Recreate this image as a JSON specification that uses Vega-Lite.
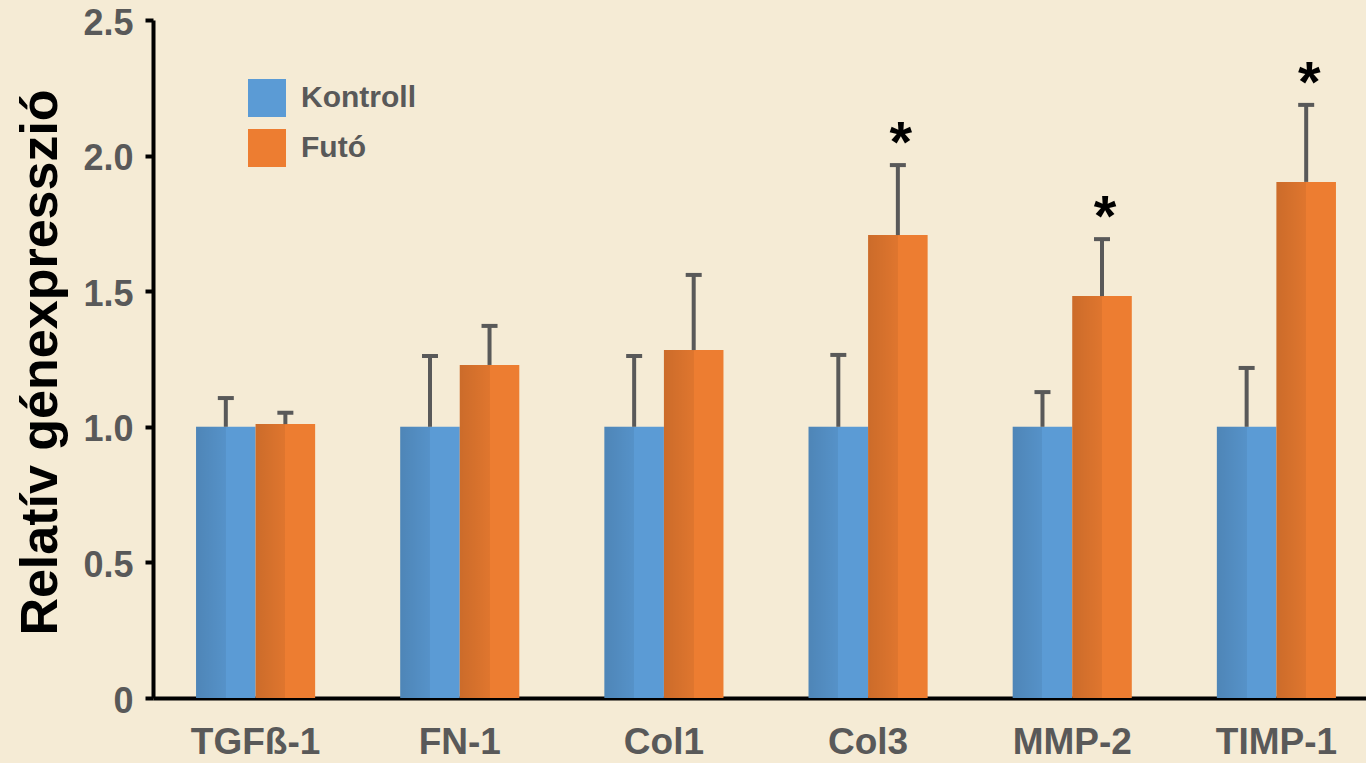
{
  "$schema": "https://vega.github.io/schema/vega-lite/v6.json",
  "width": 1213,
  "height": 678,
  "autosize": {"type": "none"},
  "padding": {"left": 153, "top": 20, "right": 0, "bottom": 65},
  "background": "#f5ebd5",
  "config": {"view": {"stroke": null}, "font": "Liberation Sans"},
  "data": {
    "values": [
      {"gene": "TGFß-1", "group": "Kontroll", "value": 1.0, "upper": 1.106, "star": false},
      {"gene": "TGFß-1", "group": "Futó", "value": 1.01, "upper": 1.052, "star": false},
      {"gene": "FN-1", "group": "Kontroll", "value": 1.0, "upper": 1.261, "star": false},
      {"gene": "FN-1", "group": "Futó", "value": 1.228, "upper": 1.372, "star": false},
      {"gene": "Col1", "group": "Kontroll", "value": 1.0, "upper": 1.261, "star": false},
      {"gene": "Col1", "group": "Futó", "value": 1.283, "upper": 1.56, "star": false},
      {"gene": "Col3", "group": "Kontroll", "value": 1.0, "upper": 1.265, "star": false},
      {"gene": "Col3", "group": "Futó", "value": 1.707, "upper": 1.965, "star": true},
      {"gene": "MMP-2", "group": "Kontroll", "value": 1.0, "upper": 1.128, "star": false},
      {"gene": "MMP-2", "group": "Futó", "value": 1.482, "upper": 1.692, "star": true},
      {"gene": "TIMP-1", "group": "Kontroll", "value": 1.0, "upper": 1.217, "star": false},
      {"gene": "TIMP-1", "group": "Futó", "value": 1.903, "upper": 2.187, "star": true}
    ]
  },
  "encoding": {
    "x": {
      "field": "gene",
      "type": "nominal",
      "sort": ["TGFß-1", "FN-1", "Col1", "Col3", "MMP-2", "TIMP-1"],
      "scale": {"paddingInner": 0.4167, "paddingOuter": 0.179, "align": 0.589},
      "axis": {
        "title": null,
        "labelFont": "Liberation Sans",
        "labelFontSize": 37,
        "labelFontWeight": "bold",
        "labelColor": "#595959",
        "labelAngle": 0,
        "labelBaseline": "top",
        "labelPadding": 26,
        "ticks": false,
        "domainColor": "black",
        "domainWidth": 4
      }
    },
    "xOffset": {
      "field": "group",
      "type": "nominal",
      "sort": ["Kontroll", "Futó"],
      "scale": {"paddingInner": 0, "paddingOuter": 0}
    }
  },
  "layer": [
    {
      "mark": {"type": "bar"},
      "encoding": {
        "y": {
          "field": "value",
          "type": "quantitative",
          "title": "Relatív génexpresszió",
          "scale": {"domain": [0, 2.5], "nice": false},
          "axis": {
            "titleFont": "Liberation Sans",
            "titleFontSize": 52,
            "titleFontWeight": "bold",
            "titleColor": "black",
            "titleAngle": 270,
            "titleAlign": "center",
            "titleBaseline": "alphabetic",
            "titleX": -97,
            "titleY": 342,
            "values": [0, 0.5, 1, 1.5, 2, 2.5],
            "labelExpr": "datum.value == 0 ? '0' : format(datum.value, '.1f')",
            "labelFontSize": 36,
            "labelFontWeight": "bold",
            "labelColor": "#595959",
            "labelPadding": 12,
            "labelOffset": 3,
            "tickSize": 8,
            "tickWidth": 4,
            "tickColor": "black",
            "domainColor": "black",
            "domainWidth": 4,
            "grid": false
          }
        },
        "color": {
          "field": "group",
          "type": "nominal",
          "sort": ["Kontroll", "Futó"],
          "scale": {"domain": ["Kontroll", "Futó"], "range": ["#5b9bd5", "#ed7d31"]},
          "legend": {
            "title": null,
            "orient": "none",
            "legendX": 95,
            "legendY": 59,
            "padding": 0,
            "symbolType": "square",
            "symbolSize": 1444,
            "symbolStrokeWidth": 0,
            "symbolOpacity": 1,
            "labelFont": "Liberation Sans",
            "labelFontSize": 30,
            "labelFontWeight": "bold",
            "labelColor": "#595959",
            "labelOffset": 15,
            "rowPadding": 12
          }
        }
      }
    },
    {
      "mark": {
        "type": "bar",
        "fill": {
          "gradient": "linear",
          "x1": 0, "x2": 1, "y1": 0, "y2": 0,
          "stops": [
            {"offset": 0, "color": "rgba(0,0,0,0.14)"},
            {"offset": 0.5, "color": "rgba(0,0,0,0.06)"},
            {"offset": 0.5, "color": "rgba(0,0,0,0)"},
            {"offset": 1, "color": "rgba(0,0,0,0)"}
          ]
        }
      },
      "encoding": {"y": {"field": "value", "type": "quantitative", "title": "Relatív génexpresszió"}}
    },
    {
      "mark": {"type": "rule", "color": "#595959", "strokeWidth": 4},
      "encoding": {
        "y": {"field": "value", "type": "quantitative", "title": "Relatív génexpresszió"},
        "y2": {"field": "upper", "title": "Relatív génexpresszió"}
      }
    },
    {
      "mark": {"type": "tick", "color": "#595959", "size": 16, "thickness": 4, "orient": "horizontal", "opacity": 1},
      "encoding": {"y": {"field": "upper", "type": "quantitative", "title": "Relatív génexpresszió"}}
    },
    {
      "transform": [{"filter": "datum.star"}],
      "mark": {"type": "text", "text": "*", "fontSize": 58, "fontWeight": "bold", "baseline": "alphabetic", "dy": -3, "dx": 3, "color": "black", "font": "Liberation Sans"},
      "encoding": {"y": {"field": "upper", "type": "quantitative", "title": "Relatív génexpresszió"}}
    }
  ]
}
